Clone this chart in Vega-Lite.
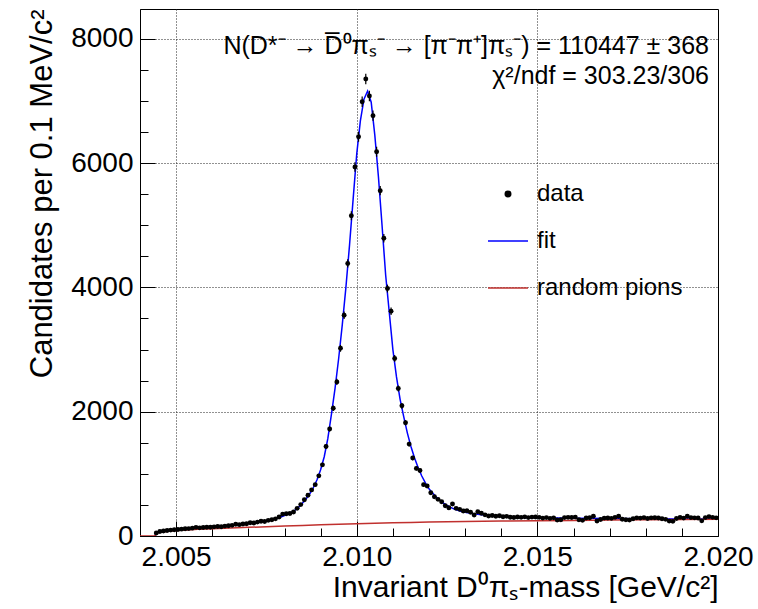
{
  "$schema": "https://vega.github.io/schema/vega-lite/v6.json",
  "width": 578,
  "height": 527,
  "autosize": {"type": "none"},
  "padding": {"left": 140, "top": 9, "right": 40, "bottom": 73},
  "background": "white",
  "config": {
    "font": "Liberation Sans",
    "view": {"stroke": "black", "strokeWidth": 1},
    "axis": {
      "domainColor": "black", "tickColor": "black", "labelColor": "black", "titleColor": "black",
      "labelFont": "Liberation Sans", "titleFont": "Liberation Sans", "titleFontWeight": "normal",
      "gridColor": "#222222", "gridDash": [1, 2], "gridWidth": 1
    }
  },
  "title": {
    "text": "N(D*⁻ → D̅⁰πₛ⁻ → [π⁻π⁺]πₛ⁻) = 110447 ± 368",
    "subtitle": "χ²/ndf = 303.23/306",
    "orient": "top", "anchor": "end", "frame": "group", "offset": -80, "dx": -9,
    "font": "Liberation Sans", "subtitleFont": "Liberation Sans",
    "fontSize": 25, "subtitleFontSize": 25, "fontWeight": "normal",
    "color": "black", "subtitleColor": "black", "subtitlePadding": 5
  },
  "datasets": {
    "hist": [
      {"m":2.00445,"v":48,"err":6.9},{"m":2.00455,"v":72,"err":8.5},{"m":2.00465,"v":80,"err":8.9},{"m":2.00475,"v":88,"err":9.4},
      {"m":2.00485,"v":95,"err":9.7},{"m":2.00495,"v":100,"err":10},{"m":2.00505,"v":104,"err":10.2},{"m":2.00515,"v":110,"err":10.5},
      {"m":2.00525,"v":116,"err":10.8},{"m":2.00535,"v":119,"err":10.9},{"m":2.00545,"v":126,"err":11.2},{"m":2.00555,"v":139,"err":11.8},
      {"m":2.00565,"v":131,"err":11.4},{"m":2.00575,"v":136,"err":11.7},{"m":2.00585,"v":141,"err":11.9},{"m":2.00595,"v":140,"err":11.8},
      {"m":2.00605,"v":147,"err":12.1},{"m":2.00615,"v":152,"err":12.3},{"m":2.00625,"v":150,"err":12.2},{"m":2.00635,"v":159,"err":12.6},
      {"m":2.00645,"v":166,"err":12.9},{"m":2.00655,"v":171,"err":13.1},{"m":2.00665,"v":188,"err":13.7},{"m":2.00675,"v":183,"err":13.5},
      {"m":2.00685,"v":192,"err":13.9},{"m":2.00695,"v":196,"err":14},{"m":2.00705,"v":214,"err":14.6},{"m":2.00715,"v":208,"err":14.4},
      {"m":2.00725,"v":224,"err":15},{"m":2.00735,"v":238,"err":15.4},{"m":2.00745,"v":233,"err":15.3},{"m":2.00755,"v":252,"err":15.9},
      {"m":2.00765,"v":262,"err":16.2},{"m":2.00775,"v":276,"err":16.6},{"m":2.00785,"v":305,"err":17.5},{"m":2.00795,"v":352,"err":18.8},
      {"m":2.00805,"v":358,"err":18.9},{"m":2.00815,"v":362,"err":19},{"m":2.00825,"v":385,"err":19.6},{"m":2.00835,"v":445,"err":21.1},
      {"m":2.00845,"v":505,"err":22.5},{"m":2.00855,"v":583,"err":24.1},{"m":2.00865,"v":655,"err":25.6},{"m":2.00875,"v":742,"err":27.2},
      {"m":2.00885,"v":826,"err":28.7},{"m":2.00895,"v":968,"err":31.1},{"m":2.00905,"v":1145,"err":33.8},{"m":2.00915,"v":1440,"err":37.9},
      {"m":2.00925,"v":1722,"err":41.5},{"m":2.00935,"v":2055,"err":45.3},{"m":2.00945,"v":2480,"err":49.8},{"m":2.00955,"v":3020,"err":55},
      {"m":2.00965,"v":3553,"err":59.6},{"m":2.00975,"v":4386,"err":66.2},{"m":2.00985,"v":5154,"err":71.8},{"m":2.00995,"v":5937,"err":77.1},
      {"m":2.01005,"v":6425,"err":80.2},{"m":2.01015,"v":6988,"err":83.6},{"m":2.01025,"v":7353,"err":85.7},{"m":2.01035,"v":7080,"err":84.1},
      {"m":2.01045,"v":6763,"err":82.2},{"m":2.01055,"v":6183,"err":78.6},{"m":2.01065,"v":5556,"err":74.5},{"m":2.01075,"v":4790,"err":69.2},
      {"m":2.01085,"v":3982,"err":63.1},{"m":2.01095,"v":3617,"err":60.1},{"m":2.01105,"v":2857,"err":53.5},{"m":2.01115,"v":2374,"err":48.7},
      {"m":2.01125,"v":2095,"err":45.8},{"m":2.01135,"v":1822,"err":42.7},{"m":2.01145,"v":1479,"err":38.5},{"m":2.01155,"v":1255,"err":35.4},
      {"m":2.01165,"v":1088,"err":33},{"m":2.01175,"v":1055,"err":32.5},{"m":2.01185,"v":826,"err":28.7},{"m":2.01195,"v":804,"err":28.4},
      {"m":2.01205,"v":696,"err":26.4},{"m":2.01215,"v":632,"err":25.1},{"m":2.01225,"v":590,"err":24.3},{"m":2.01235,"v":551,"err":23.5},
      {"m":2.01245,"v":487,"err":22.1},{"m":2.01255,"v":455,"err":21.3},{"m":2.01265,"v":514,"err":22.7},{"m":2.01275,"v":445,"err":21.1},
      {"m":2.01285,"v":429,"err":20.7},{"m":2.01295,"v":402,"err":20},{"m":2.01305,"v":407,"err":20.2},{"m":2.01315,"v":383,"err":19.6},
      {"m":2.01325,"v":338,"err":18.4},{"m":2.01335,"v":391,"err":19.8},{"m":2.01345,"v":365,"err":19.1},{"m":2.01355,"v":340,"err":18.4},
      {"m":2.01365,"v":322,"err":17.9},{"m":2.01375,"v":330,"err":18.2},{"m":2.01385,"v":318,"err":17.8},{"m":2.01395,"v":325,"err":18},
      {"m":2.01405,"v":310,"err":17.6},{"m":2.01415,"v":316,"err":17.8},{"m":2.01425,"v":302,"err":17.4},{"m":2.01435,"v":298,"err":17.3},
      {"m":2.01445,"v":305,"err":17.5},{"m":2.01455,"v":300,"err":17.3},{"m":2.01465,"v":308,"err":17.5},{"m":2.01475,"v":296,"err":17.2},
      {"m":2.01485,"v":304,"err":17.4},{"m":2.01495,"v":306,"err":17.5},{"m":2.01505,"v":300,"err":17.3},{"m":2.01515,"v":288,"err":17},
      {"m":2.01525,"v":296,"err":17.2},{"m":2.01535,"v":284,"err":16.9},{"m":2.01545,"v":292,"err":17.1},{"m":2.01555,"v":258,"err":16.1},
      {"m":2.01565,"v":262,"err":16.2},{"m":2.01575,"v":296,"err":17.2},{"m":2.01585,"v":300,"err":17.3},{"m":2.01595,"v":298,"err":17.3},
      {"m":2.01605,"v":304,"err":17.4},{"m":2.01615,"v":262,"err":16.2},{"m":2.01625,"v":252,"err":15.9},{"m":2.01635,"v":290,"err":17},
      {"m":2.01645,"v":294,"err":17.1},{"m":2.01655,"v":318,"err":17.8},{"m":2.01665,"v":242,"err":15.6},{"m":2.01675,"v":266,"err":16.3},
      {"m":2.01685,"v":288,"err":17},{"m":2.01695,"v":290,"err":17},{"m":2.01705,"v":284,"err":16.9},{"m":2.01715,"v":300,"err":17.3},
      {"m":2.01725,"v":318,"err":17.8},{"m":2.01735,"v":270,"err":16.4},{"m":2.01745,"v":262,"err":16.2},{"m":2.01755,"v":258,"err":16.1},
      {"m":2.01765,"v":278,"err":16.7},{"m":2.01775,"v":292,"err":17.1},{"m":2.01785,"v":288,"err":17},{"m":2.01795,"v":296,"err":17.2},
      {"m":2.01805,"v":282,"err":16.8},{"m":2.01815,"v":292,"err":17.1},{"m":2.01825,"v":294,"err":17.1},{"m":2.01835,"v":290,"err":17},
      {"m":2.01845,"v":278,"err":16.7},{"m":2.01855,"v":268,"err":16.4},{"m":2.01865,"v":240,"err":15.5},{"m":2.01875,"v":236,"err":15.4},
      {"m":2.01885,"v":282,"err":16.8},{"m":2.01895,"v":300,"err":17.3},{"m":2.01905,"v":288,"err":17},{"m":2.01915,"v":318,"err":17.8},
      {"m":2.01925,"v":296,"err":17.2},{"m":2.01935,"v":292,"err":17.1},{"m":2.01945,"v":290,"err":17},{"m":2.01955,"v":244,"err":15.6},
      {"m":2.01965,"v":296,"err":17.2},{"m":2.01975,"v":312,"err":17.7},{"m":2.01985,"v":300,"err":17.3},{"m":2.01995,"v":292,"err":17.1}
    ],
    "fit": [
      {"m":2.00441,"v":0},{"m":2.00445,"v":35},{"m":2.0045,"v":55},{"m":2.0046,"v":70},{"m":2.0047,"v":80},{"m":2.0048,"v":88},
      {"m":2.0049,"v":95},{"m":2.005,"v":101},{"m":2.0052,"v":112},{"m":2.0054,"v":122},{"m":2.0056,"v":131},{"m":2.0058,"v":140},
      {"m":2.006,"v":149},{"m":2.0062,"v":158},{"m":2.0064,"v":167},{"m":2.0066,"v":177},{"m":2.0068,"v":189},{"m":2.007,"v":202},
      {"m":2.0072,"v":218},{"m":2.0074,"v":236},{"m":2.0076,"v":258},{"m":2.0078,"v":287},{"m":2.0079,"v":305},{"m":2.008,"v":327},
      {"m":2.0081,"v":352},{"m":2.0082,"v":383},{"m":2.0083,"v":420},{"m":2.0084,"v":468},{"m":2.0085,"v":530},{"m":2.0086,"v":600},
      {"m":2.0087,"v":680},{"m":2.0088,"v":780},{"m":2.0089,"v":905},{"m":2.009,"v":1065},{"m":2.0091,"v":1275},{"m":2.0092,"v":1570},
      {"m":2.0093,"v":1960},{"m":2.0094,"v":2380},{"m":2.0095,"v":2860},{"m":2.0096,"v":3400},{"m":2.0097,"v":4000},{"m":2.0098,"v":4680},
      {"m":2.0099,"v":5420},{"m":2.01,"v":6150},{"m":2.0101,"v":6680},{"m":2.0102,"v":7030},{"m":2.0103,"v":7160},{"m":2.0104,"v":6980},
      {"m":2.0105,"v":6450},{"m":2.0106,"v":5780},{"m":2.0107,"v":5000},{"m":2.0108,"v":4200},{"m":2.0109,"v":3600},{"m":2.011,"v":3000},
      {"m":2.0111,"v":2560},{"m":2.0112,"v":2200},{"m":2.0113,"v":1920},{"m":2.0114,"v":1660},{"m":2.0115,"v":1440},{"m":2.0116,"v":1255},
      {"m":2.0117,"v":1100},{"m":2.0118,"v":965},{"m":2.0119,"v":855},{"m":2.012,"v":760},{"m":2.0121,"v":690},{"m":2.0122,"v":628},
      {"m":2.0123,"v":575},{"m":2.0124,"v":530},{"m":2.0125,"v":492},{"m":2.0126,"v":460},{"m":2.0127,"v":433},{"m":2.0128,"v":412},
      {"m":2.0129,"v":394},{"m":2.013,"v":380},{"m":2.0132,"v":360},{"m":2.0134,"v":345},{"m":2.0136,"v":333},{"m":2.0138,"v":323},
      {"m":2.014,"v":315},{"m":2.0143,"v":306},{"m":2.0146,"v":299},{"m":2.015,"v":293},{"m":2.0155,"v":288},{"m":2.016,"v":284},
      {"m":2.017,"v":280},{"m":2.018,"v":277},{"m":2.019,"v":275},{"m":2.02,"v":273}
    ],
    "bkg": [
      {"m":2.004,"v":0},{"m":2.00441,"v":0},{"m":2.00445,"v":30},{"m":2.0045,"v":55},{"m":2.0046,"v":65},{"m":2.0048,"v":78},
      {"m":2.005,"v":87},{"m":2.0053,"v":98},{"m":2.0056,"v":108},{"m":2.006,"v":117},{"m":2.0065,"v":128},{"m":2.007,"v":139},
      {"m":2.0075,"v":150},{"m":2.008,"v":160},{"m":2.0085,"v":170},{"m":2.009,"v":180},{"m":2.0095,"v":189},{"m":2.01,"v":197},
      {"m":2.0105,"v":205},{"m":2.011,"v":212},{"m":2.0115,"v":218},{"m":2.012,"v":224},{"m":2.0125,"v":229},{"m":2.013,"v":233},
      {"m":2.014,"v":240},{"m":2.015,"v":246},{"m":2.016,"v":251},{"m":2.017,"v":256},{"m":2.018,"v":260},{"m":2.019,"v":264},{"m":2.02,"v":268}
    ]
  },
  "layer": [
    {
      "data": {"name": "fit"},
      "mark": {"type": "line", "strokeWidth": 1.5, "clip": true},
      "encoding": {
        "x": {"field": "m", "type": "quantitative", "title": "Invariant D⁰πₛ-mass [GeV/c²]",
          "scale": {"domain": [2.004, 2.02], "nice": false, "zero": false},
          "axis": {
            "titleFontSize": 30, "titleAnchor": "end", "titlePadding": -6, "tickCount": 100,
            "values": [2.004,2.005,2.006,2.007,2.008,2.009,2.01,2.011,2.012,2.013,2.014,2.015,2.016,2.017,2.018,2.019,2.02],
            "labelExpr": "(abs(datum.value - 2.005) < 0.00001 || abs(datum.value - 2.01) < 0.00001 || abs(datum.value - 2.015) < 0.00001 || abs(datum.value - 2.02) < 0.00001) ? format(datum.value, '.3f') : ''",
            "labelFontSize": 28, "labelPadding": 22, "labelFlush": false, "labelOverlap": false,
            "tickSize": {"condition": {"test": "abs(datum.value - 2.005) < 0.00001 || abs(datum.value - 2.01) < 0.00001 || abs(datum.value - 2.015) < 0.00001 || abs(datum.value - 2.02) < 0.00001", "value": -15}, "value": -8},
            "grid": true,
            "gridOpacity": {"condition": {"test": "abs(datum.value - 2.005) < 0.00001 || abs(datum.value - 2.01) < 0.00001 || abs(datum.value - 2.015) < 0.00001", "value": 1}, "value": 0}
          }
        },
        "y": {"field": "v", "type": "quantitative", "title": "Candidates per 0.1 MeV/c²",
          "scale": {"domain": [0, 8480], "nice": false},
          "axis": {
            "titleFontSize": 31, "titleAnchor": "end", "titlePadding": 12, "tickCount": 100,
            "values": [0,500,1000,1500,2000,2500,3000,3500,4000,4500,5000,5500,6000,6500,7000,7500,8000],
            "labelExpr": "datum.value % 2000 === 0 ? datum.label : ''", "format": "d",
            "labelFontSize": 28, "labelPadding": 22, "labelFlush": false, "labelOverlap": false,
            "tickSize": {"condition": {"test": "datum.value % 2000 === 0", "value": -15}, "value": -8},
            "grid": true,
            "gridOpacity": {"condition": {"test": "datum.value % 2000 === 0 && datum.value > 0", "value": 1}, "value": 0}
          }
        },
        "color": {"datum": "fit", "type": "nominal",
          "scale": {"domain": ["data", "fit", "random pions"], "range": ["black", "#0000ff", "#c0302e"]},
          "legend": {
            "title": null, "orient": "none", "legendX": 347, "legendY": 164, "padding": 0,
            "symbolType": "stroke", "symbolSize": 1600, "symbolStrokeWidth": 1.5,
            "labelFontSize": 24, "labelFont": "Liberation Sans", "labelColor": "black", "labelLimit": 300,
            "labelOffset": 8, "rowPadding": 14,
            "encode": {"symbols": {"update": {
              "shape": {"signal": "datum.value === 'data' ? 'circle' : 'stroke'"},
              "size": {"signal": "datum.value === 'data' ? 30 : 1600"},
              "fill": {"signal": "datum.value === 'data' ? 'black' : 'transparent'"},
              "stroke": {"signal": "datum.value === 'data' ? 'transparent' : (datum.value === 'fit' ? '#0000ff' : '#c0302e')"},
              "strokeWidth": {"value": 1.5},
              "opacity": {"value": 1}
            }}}
          }
        }
      }
    },
    {
      "data": {"name": "bkg"},
      "mark": {"type": "line", "strokeWidth": 1.5, "clip": true},
      "encoding": {
        "x": {"field": "m", "type": "quantitative", "title": "Invariant D⁰πₛ-mass [GeV/c²]"},
        "y": {"field": "v", "type": "quantitative", "title": "Candidates per 0.1 MeV/c²"},
        "color": {"datum": "random pions", "type": "nominal"}
      }
    },
    {
      "data": {"name": "hist"},
      "mark": {"type": "errorbar", "color": "black", "thickness": 1.2},
      "encoding": {
        "x": {"field": "m", "type": "quantitative", "title": "Invariant D⁰πₛ-mass [GeV/c²]"},
        "y": {"field": "v", "type": "quantitative", "title": "Candidates per 0.1 MeV/c²"},
        "yError": {"field": "err"}
      }
    },
    {
      "data": {"name": "hist"},
      "mark": {"type": "circle", "size": 24, "opacity": 1},
      "encoding": {
        "x": {"field": "m", "type": "quantitative", "title": "Invariant D⁰πₛ-mass [GeV/c²]"},
        "y": {"field": "v", "type": "quantitative", "title": "Candidates per 0.1 MeV/c²"},
        "color": {"datum": "data", "type": "nominal"}
      }
    }
  ]
}
